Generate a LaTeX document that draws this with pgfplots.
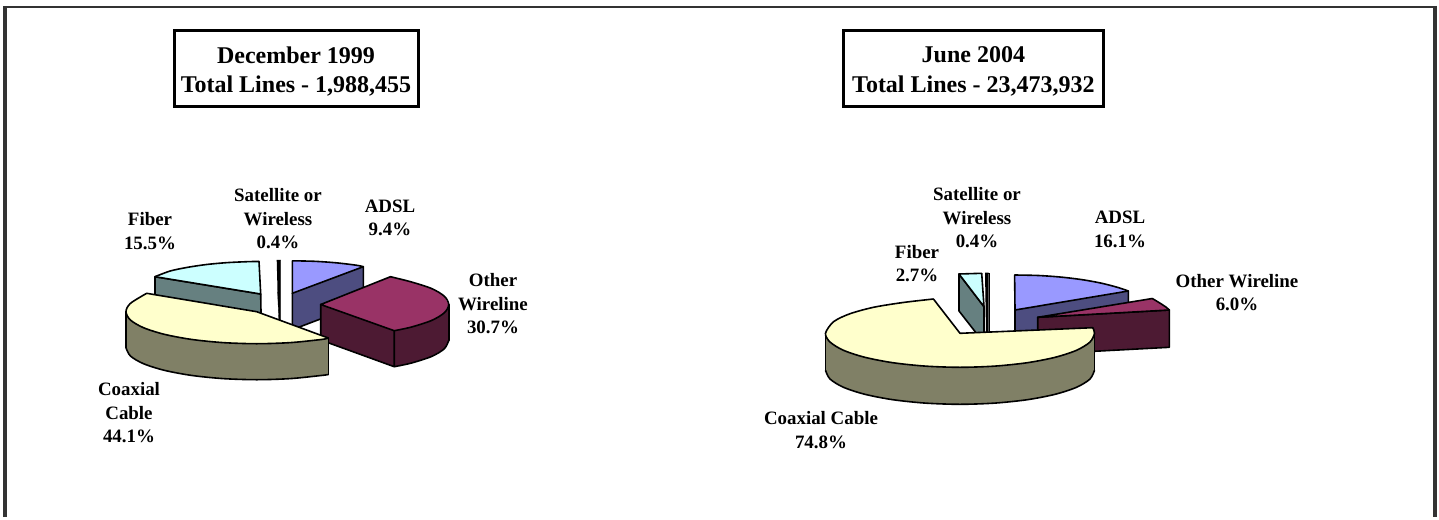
\documentclass[border=0pt]{standalone}
\usepackage{pgfplots}
\pgfplotsset{compat=1.18}
\usepackage{fontspec}
\setmainfont{Liberation Serif}
\definecolor{frame}{HTML}{333333}
\definecolor{adslT}{HTML}{9999FF}\definecolor{adslS}{HTML}{4D4D80}
\definecolor{redT}{HTML}{993366}\definecolor{redS}{HTML}{4D1A33}
\definecolor{fibT}{HTML}{CCFFFF}\definecolor{fibS}{HTML}{668080}
\definecolor{yelT}{HTML}{FFFFCC}\definecolor{yelS}{HTML}{808066}
\pgfplotsset{
  face/.style={fill=#1,draw=none,forget plot},
  rim/.style={black,line width=1.6pt,smooth,no marks,forget plot},
  edge/.style={black,line width=1.6pt,no marks,forget plot,line join=round,line cap=round},
}
\begin{document}
\begin{tikzpicture}
\begin{axis}[
  scale only axis,width=1439pt,height=517pt,
  xmin=0,xmax=1439,ymin=0,ymax=517,y dir=reverse,
  axis lines=none,clip=false,
]
% full page extent
\addplot[draw=none,no marks,forget plot] coordinates {(0,0)(1439,517)};
% frame
\addplot[frame,line width=4pt,no marks] coordinates {(5,517)(5,7)};
\addplot[frame,line width=2pt,no marks] coordinates {(3,7)(1437.3,7)};
\addplot[frame,line width=4pt,no marks] coordinates {(1435.3,6)(1435.3,517)};
% title boxes
\addplot[black,line width=3pt,no marks,line join=miter] coordinates {(174,30.7)(418,30.7)(418,106)(174,106)(174,30.7)(418,30.7)};
\addplot[black,line width=3pt,no marks,line join=miter] coordinates {(843.5,30.7)(1103.3,30.7)(1103.3,106)(843.5,106)(843.5,30.7)(1103.3,30.7)};

% ===== PIE 1 =====
% ADSL
\addplot[face=adslS] coordinates {(292.3,293.3)(363.3,266.7)(363.3,302.7)(292.3,329.7)};
\addplot[edge] coordinates {(292.3,293.3)(292.3,329.7)(363.3,302.7)(363.3,266.7)};
\addplot[face=adslT] coordinates {(292.3,293.3)(292.3,260.8)(314.5,261.3)(336.1,262.8)(356.3,265.2)(363.3,266.7)};
\addplot[rim] coordinates {(292.3,260.8)(314.5,261.3)(336.1,262.8)(356.3,265.2)(363.3,266.7)};
\addplot[edge] coordinates {(292.3,260.8)(292.3,293.3)(363.3,266.7)};
% Satellite
\addplot[fill=black,draw=black,line width=.3pt,forget plot] coordinates {(276.7,260)(280.7,260)(280.7,320)(278.8,320)(277.5,290)};
% Fiber
\addplot[face=fibS] coordinates {(155,276.7)(260.7,294)(261.3,330)(155,312.7)};
\addplot[edge] coordinates {(155,312.7)(155,276.7)(260.7,294)(261.3,330)};
\addplot[face=fibT] coordinates {(155,276.7)(170.2,271)(187.2,267.4)(206.6,264.5)(227.5,262.6)(249.6,261.6)(259,261.5)(260.7,294)};
\addplot[rim] coordinates {(155,276.7)(170.2,271)(187.2,267.4)(206.6,264.5)(227.5,262.6)(249.6,261.6)(259,261.5)};
\addplot[edge] coordinates {(155,276.7)(260.7,294)(259,261.5)};
% Other Wireline
\addplot[face=redS] coordinates {(320.7,304.5)(394.2,330.7)(411.2,327.1)(431.5,320.5)(444.3,312.8)(448.7,304.5)(448.7,340.5)(444.3,348.8)(431.5,356.5)(411.2,363.1)(394.2,366.7)(320.7,340)};
\addplot[rim] coordinates {(394.2,366.7)(411.2,363.1)(431.5,356.5)(444.3,348.8)(448.7,340.5)};
\addplot[edge] coordinates {(320.7,304.5)(320.7,340)(394.2,366.7)(394.2,330.7)};
\addplot[edge] coordinates {(448.7,304.5)(448.7,340.5)};
\addplot[face=redT] coordinates {(320.7,304.5)(390.5,276.7)(411.2,281.9)(431.5,288.5)(444.3,296.2)(448.7,304.5)(444.3,312.8)(431.5,320.5)(411.2,327.1)(394.2,330.7)};
\addplot[rim] coordinates {(390.5,276.7)(411.2,281.9)(431.5,288.5)(444.3,296.2)(448.7,304.5)(444.3,312.8)(431.5,320.5)(411.2,327.1)(394.2,330.7)};
\addplot[edge] coordinates {(390.5,276.7)(320.7,304.5)(394.2,330.7)};
% Coaxial
\addplot[face=yelS] coordinates {(126,311.7)(130.4,320)(143.5,327.7)(164.3,334.3)(191.4,339.4)(222.9,342.6)(256.7,343.7)(290.5,342.6)(322,339.4)(328.3,338)(328.3,374.5)(322,375.4)(290.5,378.6)(256.7,379.7)(222.9,378.6)(191.4,375.4)(164.3,370.3)(143.5,363.7)(130.4,356)(126,347.7)};
\addplot[rim] coordinates {(126,347.7)(130.4,356)(143.5,363.7)(164.3,370.3)(191.4,375.4)(222.9,378.6)(256.7,379.7)(290.5,378.6)(322,375.4)(328.3,374.5)};
\addplot[edge] coordinates {(126,311.7)(126,347.7)};
\addplot[edge] coordinates {(328.3,338)(328.3,374.5)};
\addplot[face=yelT] coordinates {(146.7,293.3)(130.4,303.4)(126,311.7)(130.4,320)(143.5,327.7)(164.3,334.3)(191.4,339.4)(222.9,342.6)(256.7,343.7)(290.5,342.6)(322,339.4)(328.3,338)(256.7,311.7)};
\addplot[rim] coordinates {(146.7,293.3)(130.4,303.4)(126,311.7)(130.4,320)(143.5,327.7)(164.3,334.3)(191.4,339.4)(222.9,342.6)(256.7,343.7)(290.5,342.6)(322,339.4)(328.3,338)};
\addplot[edge] coordinates {(146.7,293.3)(256.7,311.7)(328.3,338)};

% ===== PIE 2 =====
% ADSL
\addplot[face=adslS] coordinates {(1015,310)(1128.3,291)(1128.3,327)(1015,346)};
\addplot[edge] coordinates {(1015,310)(1015,346)(1128.3,327)(1128.3,291)};
\addplot[face=adslT] coordinates {(1015,310)(1014.6,275)(1038.4,275.5)(1061,277.1)(1082.3,279.7)(1101.5,283.2)(1118,287.5)(1128.3,291)};
\addplot[rim] coordinates {(1014.6,275)(1038.4,275.5)(1061,277.1)(1082.3,279.7)(1101.5,283.2)(1118,287.5)(1128.3,291)};
\addplot[edge] coordinates {(1014.6,275)(1015,310)(1128.3,291)};
% Satellite
\addplot[fill=black,draw=black,line width=.3pt,forget plot] coordinates {(985,272.7)(988.7,272.7)(988.7,333)(986,333)};
% Fiber
\addplot[face=fibS] coordinates {(959,274)(984,306.7)(984,343)(959,311)};
\addplot[edge] coordinates {(959,274)(959,311)(984,343)(984,306.7)(959,274)};
\addplot[face=fibT] coordinates {(959,274)(981.7,273.3)(984,306.7)};
\addplot[edge] coordinates {(959,274)(981.7,273.3)(984,306.7)(959,274)};
% Other Wireline
\addplot[face=redS] coordinates {(1037.7,317.3)(1169.3,310)(1169.3,347.3)(1037.7,354.3)};
\addplot[edge] coordinates {(1037.7,354.3)(1037.7,317.3)(1169.3,310)(1169.3,347.3)(1037.7,354.3)};
\addplot[face=redT] coordinates {(1037.7,317.3)(1152.3,298.5)(1159.6,302.9)(1165.6,306.8)(1169.3,310)};
\addplot[rim] coordinates {(1152.3,298.5)(1159.6,302.9)(1165.6,306.8)(1169.3,310)};
\addplot[edge] coordinates {(1152.3,298.5)(1037.7,317.3)(1169.3,310)};
% Coaxial
\addplot[face=yelS] coordinates {(825.5,333.3)(830.1,342.1)(843.5,350.3)(864.9,357.3)(892.8,362.7)(925.2,366.1)(960,367.3)(994.8,366.1)(1027.3,362.7)(1055.1,357.3)(1076.5,350.3)(1089.9,342.1)(1094.5,333.3)(1094.5,370.3)(1089.9,379.1)(1076.5,387.3)(1055.1,394.3)(1027.3,399.7)(994.8,403.1)(960,404.3)(925.2,403.1)(892.8,399.7)(864.9,394.3)(843.5,387.3)(830.1,379.1)(825.5,370.3)};
\addplot[rim] coordinates {(825.5,370.3)(830.1,379.1)(843.5,387.3)(864.9,394.3)(892.8,399.7)(925.2,403.1)(960,404.3)(994.8,403.1)(1027.3,399.7)(1055.1,394.3)(1076.5,387.3)(1089.9,379.1)(1094.5,370.3)};
\addplot[edge] coordinates {(825.5,333.3)(825.5,370.3)};
\addplot[edge] coordinates {(1094.5,333.3)(1094.5,370.3)};
\addplot[face=yelT] coordinates {(933.4,299)(903.1,302.5)(873.5,307.3)(849.8,313.8)(833.6,321.7)(825.5,333.3)(830.1,342.1)(843.5,350.3)(864.9,357.3)(892.8,362.7)(925.2,366.1)(960,367.3)(994.8,366.1)(1027.3,362.7)(1055.1,357.3)(1076.5,350.3)(1089.9,342.1)(1094.5,333.3)(1092.7,327.7)(960,333.3)};
\addplot[rim] coordinates {(933.4,299)(903.1,302.5)(873.5,307.3)(849.8,313.8)(833.6,321.7)(825.5,333.3)(830.1,342.1)(843.5,350.3)(864.9,357.3)(892.8,362.7)(925.2,366.1)(960,367.3)(994.8,366.1)(1027.3,362.7)(1055.1,357.3)(1076.5,350.3)(1089.9,342.1)(1094.5,333.3)(1092.7,327.7)};
\addplot[edge] coordinates {(933.4,299)(960,333.3)(1092.7,327.7)};

% ===== TEXT =====
\node[align=center,inner sep=0pt,font=\fontsize{24}{29.5}\selectfont\bfseries] at (axis cs:296,71.5) {December 1999\\Total Lines - 1,988,455};
\node[align=center,inner sep=0pt,font=\fontsize{24}{29.5}\selectfont\bfseries] at (axis cs:973.4,71.5) {June 2004\\Total Lines - 23,473,932};
\tikzset{lb/.style={align=center,inner sep=0pt,font=\fontsize{18.9}{23.5}\selectfont\bfseries}}
\node[lb] at (axis cs:150,231) {Fiber\\15.5\%};
\node[lb] at (axis cs:278,219) {Satellite or\\Wireless\\0.4\%};
\node[lb] at (axis cs:390,218) {ADSL\\9.4\%};
\node[lb] at (axis cs:493,304) {Other\\Wireline\\30.7\%};
\node[lb] at (axis cs:129,413) {Coaxial\\Cable\\44.1\%};
\node[lb] at (axis cs:917,263.5) {Fiber\\2.7\%};
\node[lb] at (axis cs:977,218) {Satellite or\\Wireless\\0.4\%};
\node[lb] at (axis cs:1120,229.5) {ADSL\\16.1\%};
\node[lb] at (axis cs:1237,292.5) {Other Wireline\\6.0\%};
\node[lb] at (axis cs:821,430) {Coaxial Cable\\74.8\%};
\end{axis}
\end{tikzpicture}
\end{document}
